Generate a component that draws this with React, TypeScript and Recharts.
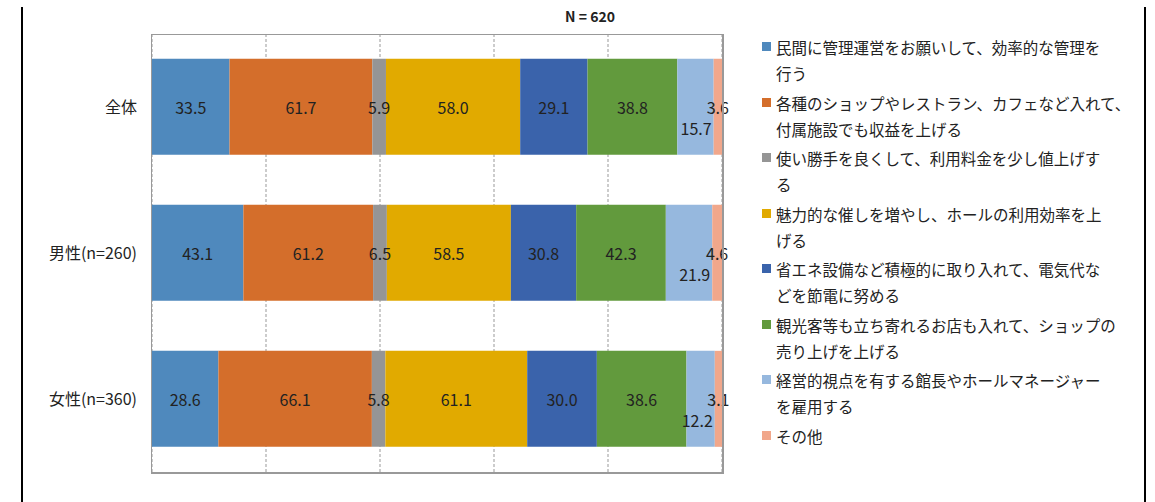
import React from "react"
import { BarChart, Bar, XAxis, YAxis, CartesianGrid, LabelList } from "recharts"

// groups (rows of the chart)
const groups = ["全体", "男性(n=260)", "女性(n=360)"]

// answer options, line breaks where the legend wraps
const seriesNames = [
  "民間に管理運営をお願いして、効率的な管理を\n行う",
  "各種のショップやレストラン、カフェなど入れて、\n付属施設でも収益を上げる",
  "使い勝手を良くして、利用料金を少し値上げす\nる",
  "魅力的な催しを増やし、ホールの利用効率を上\nげる",
  "省エネ設備など積極的に取り入れて、電気代な\nどを節電に努める",
  "観光客等も立ち寄れるお店も入れて、ショップの\n売り上げを上げる",
  "経営的視点を有する館長やホールマネージャー\nを雇用する",
  "その他",
]

const seriesColors = ["#4F89BD", "#D46E2B", "#959595", "#E1AA00", "#3A63AB", "#629A3D", "#96B8DE", "#F1A78B"]

// percentages per option, one array per option (全体, 男性, 女性)
const s1 = [33.5, 43.1, 28.6]
const s2 = [61.7, 61.2, 66.1]
const s3 = [5.9, 6.5, 5.8]
const s4 = [58.0, 58.5, 61.1]
const s5 = [29.1, 30.8, 30.0]
const s6 = [38.8, 42.3, 38.6]
const s7 = [15.7, 21.9, 12.2]
const s8 = [3.6, 4.6, 3.1]

const seriesValues = [s1, s2, s3, s4, s5, s6, s7, s8]
const gridTicks = [0, 0.2, 0.4, 0.6, 0.8, 1]

const data = groups.map((g, i) => {
  const row: Record<string, string | number> = { name: g }
  seriesValues.forEach((vals, k) => {
    row["s" + k] = vals[i]
  })
  return row
})

const FONT = "'Noto Sans CJK JP', 'Noto Sans', sans-serif"

const centerLabel = (props: any) => {
  const { x, y, width, height, value } = props
  return (
    <text x={x + width / 2} y={y + height / 2} textAnchor="middle" dominantBaseline="central" fontSize={16} fill="#222" fontFamily={FONT}>
      {Number(value).toFixed(1)}
    </text>
  )
}

// light blue series: label sits lower, flush to the segment end
const lowLabel = (props: any) => {
  const { x, y, width, height, value } = props
  return (
    <text x={x + width - 2} y={y + height / 2 + 21} textAnchor="end" dominantBaseline="central" fontSize={16} fill="#222" fontFamily={FONT}>
      {Number(value).toFixed(1)}
    </text>
  )
}

export default function App() {
  return (
    <div style={{ position: "fixed", left: 0, top: 0, width: 1155, height: 502, background: "#fff", fontFamily: FONT }}>
      <div style={{ position: "absolute", left: 21, top: 7, width: 2, height: 495, background: "#000" }} />
      <div style={{ position: "absolute", left: 1144, top: 7, width: 2, height: 495, background: "#000" }} />
      <div style={{ position: "absolute", left: 540, top: 6, width: 100, textAlign: "center", fontSize: 14, fontWeight: "bold", color: "#222" }}>
        N = 620
      </div>
      <div style={{ position: "absolute", left: 0, top: 0 }}>
        <BarChart
          width={740}
          height={502}
          data={data}
          layout="vertical"
          stackOffset="expand"
          barCategoryGap="17%"
          margin={{ top: 34, right: 18, left: 22, bottom: 30 }}
        >
          <CartesianGrid horizontal={false} stroke="#999" strokeDasharray="3 2" />
          <XAxis type="number" domain={[0, 1]} ticks={gridTicks} hide />
          <YAxis
            type="category"
            dataKey="name"
            width={130}
            axisLine={false}
            tickLine={false}
            tickMargin={9}
            tick={{ fontSize: 16, fill: "#222", fontFamily: FONT }}
          />
          {seriesNames.map((n, k) => (
            <Bar key={k} dataKey={"s" + k} name={n} stackId="a" fill={seriesColors[k]} isAnimationActive={false}>
              <LabelList dataKey={"s" + k} content={k === 6 ? lowLabel : centerLabel} />
            </Bar>
          ))}
        </BarChart>
      </div>
      <div
        style={{
          position: "absolute",
          left: 151,
          top: 34,
          width: 570,
          height: 437,
          border: "1.5px solid #999",
          borderRightWidth: 2,
          borderBottomWidth: 2.5,
          pointerEvents: "none",
        }}
      />
      <div style={{ position: "absolute", left: 760, top: 34, width: 384 }}>
        {seriesNames.map((n, k) => (
          <div key={k} style={{ position: "relative", paddingLeft: 16, marginBottom: 3.5, fontSize: 15.5, lineHeight: "26px", color: "#222", whiteSpace: "pre" }}>
            <span style={{ position: "absolute", left: 2, top: 8, width: 9, height: 9, background: seriesColors[k] }} />
            {n}
          </div>
        ))}
      </div>
    </div>
  )
}
